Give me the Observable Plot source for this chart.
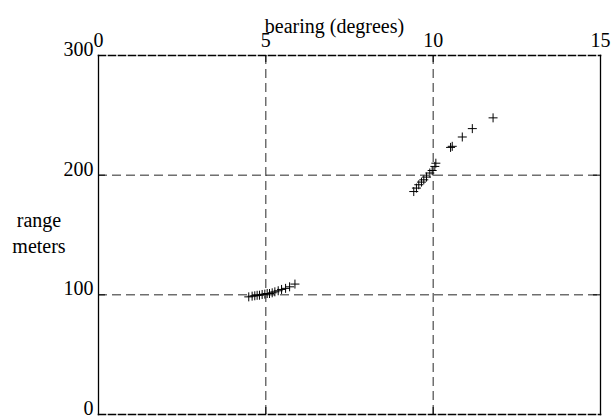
<!DOCTYPE html>
<html>
<head>
<meta charset="utf-8">
<script src="https://cdn.jsdelivr.net/npm/d3@7"></script>
<script src="https://cdn.jsdelivr.net/npm/@observablehq/plot@0.6"></script>
<style>
  html, body { margin: 0; padding: 0; background: #fff; }
</style>
</head>
<body>
<div id="chart"></div>
<script>
// bearing (degrees) and range (meters) of each "+" marker
const bearing = [
  4.49, 4.59, 4.67, 4.74, 4.81, 4.89, 4.97, 5.04, 5.11, 5.19, 5.27, 5.37, 5.47, 5.59, 5.71, 5.87,
  9.42, 9.50, 9.57, 9.65, 9.72, 9.80, 9.90, 9.97, 10.05, 10.08,
  10.52, 10.57, 10.87, 11.17, 11.79
];
const range = [
  98.3, 98.9, 99.2, 99.6, 99.7, 100.3, 100.6, 101.1, 101.1, 101.7, 102.5, 103.4, 104.5, 105.4, 106.7, 109.0,
  186.3, 189.2, 192.0, 194.2, 196.1, 198.4, 201.8, 203.9, 207.3, 210.0,
  223.2, 224.1, 231.9, 238.9, 247.9
];
const xTicks = [0, 5, 10, 15];
const yTicks = [0, 100, 200, 300];
const xGrid = [5, 10];
const yGrid = [100, 200];
const xTitle = "bearing (degrees)";
const yTitle = "range\nmeters";

const points = bearing.map((b, i) => ({bearing: b, range: range[i]}));

const plus = {
  draw(context, size) {
    const r = 4.5;
    context.moveTo(-r, 0); context.lineTo(r, 0);
    context.moveTo(0, -r); context.lineTo(0, r);
  }
};

const W = 613, H = 418;
const mL = 98, mR = 13, mT = 55, mB = 4;
const innerW = W - mL - mR, innerH = H - mT - mB;
const tk = 7;
const fs = 20;

const chart = Plot.plot({
  width: W,
  height: H,
  marginLeft: mL,
  marginRight: mR,
  marginTop: mT,
  marginBottom: mB,
  style: {fontFamily: "'Liberation Serif', 'Times New Roman', serif", fontSize: fs + "px", color: "#000", background: "#fff", overflow: "visible"},
  x: {domain: [0, 15]},
  y: {domain: [0, 300]},
  marks: [
    Plot.gridX(xGrid, {stroke: "#000", strokeOpacity: 0.85, strokeDasharray: "9,5"}),
    Plot.gridY(yGrid, {stroke: "#000", strokeOpacity: 0.85, strokeDasharray: "9,5"}),
    // inward ticks
    Plot.ruleX(xGrid, {stroke: "#000", insetBottom: innerH - tk}),
    Plot.ruleX(xGrid, {stroke: "#000", insetTop: innerH - tk}),
    Plot.ruleY(yGrid, {stroke: "#000", insetRight: innerW - tk}),
    Plot.ruleY(yGrid, {stroke: "#000", insetLeft: innerW - tk}),
    Plot.frame({anchor: "left", stroke: "#000", strokeWidth: 1.3}),
    Plot.frame({anchor: "right", stroke: "#000", strokeWidth: 1.3}),
    Plot.frame({anchor: "top", stroke: "#000", strokeWidth: 1.6, strokeDasharray: "7,3"}),
    Plot.frame({anchor: "bottom", stroke: "#000", strokeWidth: 1.6, strokeDasharray: "7,3"}),
    Plot.axisX({anchor: "top", ticks: xTicks, tickSize: 0, tickPadding: 9, label: null, fill: "#000", fontSize: fs}),
    Plot.axisY({anchor: "left", ticks: yTicks, tickSize: 0, tickPadding: 5, dy: -6, label: null, fill: "#000", fontSize: fs}),
    Plot.text([xTitle], {frameAnchor: "top", dy: -37, dx: -15, fill: "#000", fontSize: fs}),
    Plot.text([yTitle], {frameAnchor: "left", textAnchor: "middle", dx: -59.5, dy: -3, fill: "#000", fontSize: fs, lineHeight: 1.3}),
    Plot.dot(points, {x: "bearing", y: "range", symbol: plus, r: 4.5, stroke: "#000", strokeWidth: 1, fill: "none"})
  ]
});
document.getElementById("chart").appendChild(chart);
</script>
</body>
</html>
